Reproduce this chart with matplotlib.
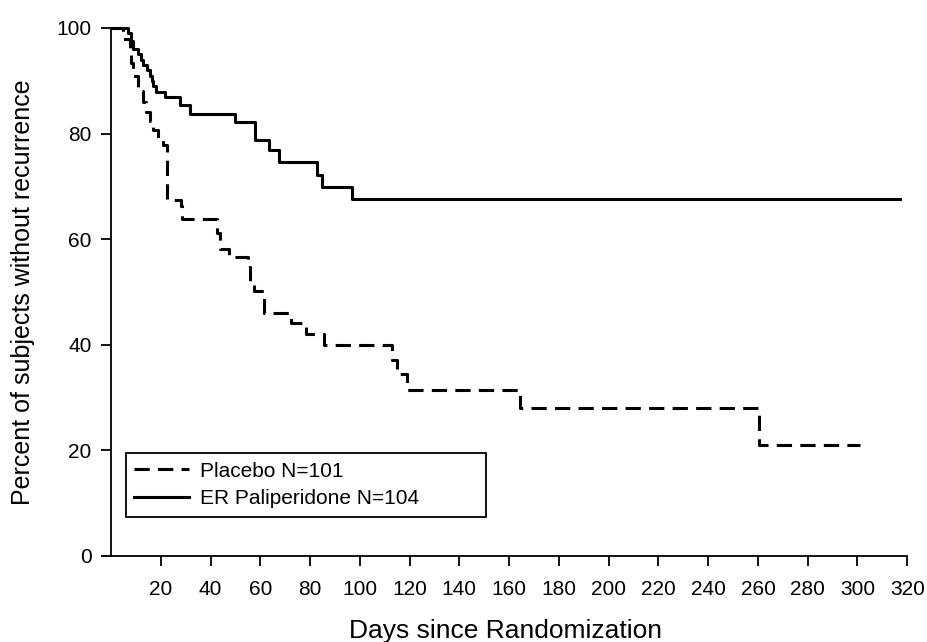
import numpy as np
import matplotlib
matplotlib.use("Agg")
import matplotlib.pyplot as plt

# Kaplan-Meier steps (day, percent without recurrence)
placebo_days = [0, 5, 7.5, 8, 9, 11, 13, 14, 15.5, 17, 19, 21, 22.4, 28, 28.5,
                42.4, 44, 47.5, 55, 56, 57.5, 61.5, 72.5, 78.5, 85.5,
                113, 115, 119, 164.5, 260.5]
placebo_surv = [100, 98, 96, 93.3, 91, 88, 86, 84, 82.3, 80.7, 79, 77.8, 67.5, 66.2, 63.8,
                61.1, 58.1, 56.6, 54.8, 51.5, 50.1, 46.1, 44.1, 42, 40,
                37.1, 34.5, 31.4, 28, 21]
placebo_end = 301

pali_days = [0, 7, 8, 9, 11, 12, 13, 14.5, 15.5, 16.5, 17, 18, 21.7, 27.7, 31.7,
             49.8, 57.8, 63.6, 67.6, 82.9, 84.6, 96.7]
pali_surv = [100, 99, 97.5, 96, 95, 94, 93, 92, 91, 90, 89, 87.8, 87, 85.4, 83.8,
             82.1, 78.8, 76.8, 74.7, 72.2, 69.9, 67.7]
pali_end = 317

labels = ['Placebo N=101', 'ER Paliperidone N=104']
xticks = np.arange(20, 321, 20)
yticks = np.arange(0, 101, 20)

plt.rcParams['font.family'] = ['Liberation Sans', 'DejaVu Sans']

fig = plt.figure(figsize=(9.27, 6.42), dpi=100)
ax = fig.add_axes([0.1117, 0.134, 0.867, 0.8224])

lw = 2.2
ax.step(np.append(placebo_days, placebo_end), np.append(placebo_surv, placebo_surv[-1]),
        where='post', color='black', lw=lw, linestyle=(0, (5, 2.7)), label=labels[0],
        clip_on=False)
ax.step(np.append(pali_days, pali_end), np.append(pali_surv, pali_surv[-1]),
        where='post', color='black', lw=lw, label=labels[1], clip_on=False)

ax.set_xlim(-3, 320)
ax.set_ylim(0, 100)
ax.spines['left'].set_position(('data', 0))
ax.spines['top'].set_visible(False)
ax.spines['right'].set_visible(False)
for s in ['left', 'bottom']:
    ax.spines[s].set_linewidth(1.3)

ax.set_xticks(xticks)
ax.set_yticks(yticks)
ax.tick_params(axis='both', direction='out', length=7, width=1.3, labelsize=15,
               colors='black')
ax.tick_params(axis='x', pad=10)
ax.tick_params(axis='y', pad=7)

ax.set_xlabel('Days since Randomization', fontsize=19, labelpad=15)
ax.set_ylabel('Percent of subjects without recurrence', fontsize=18, labelpad=12)
ax.yaxis.set_label_coords(-0.085, 0.5)

leg = ax.legend(loc='lower left', bbox_to_anchor=(0.0276, 0.0744, 0.448, 0.122),
                mode='expand', fontsize=15, frameon=True, fancybox=False,
                edgecolor='black', framealpha=1, borderpad=0.42, labelspacing=0.4,
                handlelength=2.6, handletextpad=0.55, borderaxespad=0)
leg.get_frame().set_linewidth(1.3)

fig.savefig('out.png', dpi=100)
